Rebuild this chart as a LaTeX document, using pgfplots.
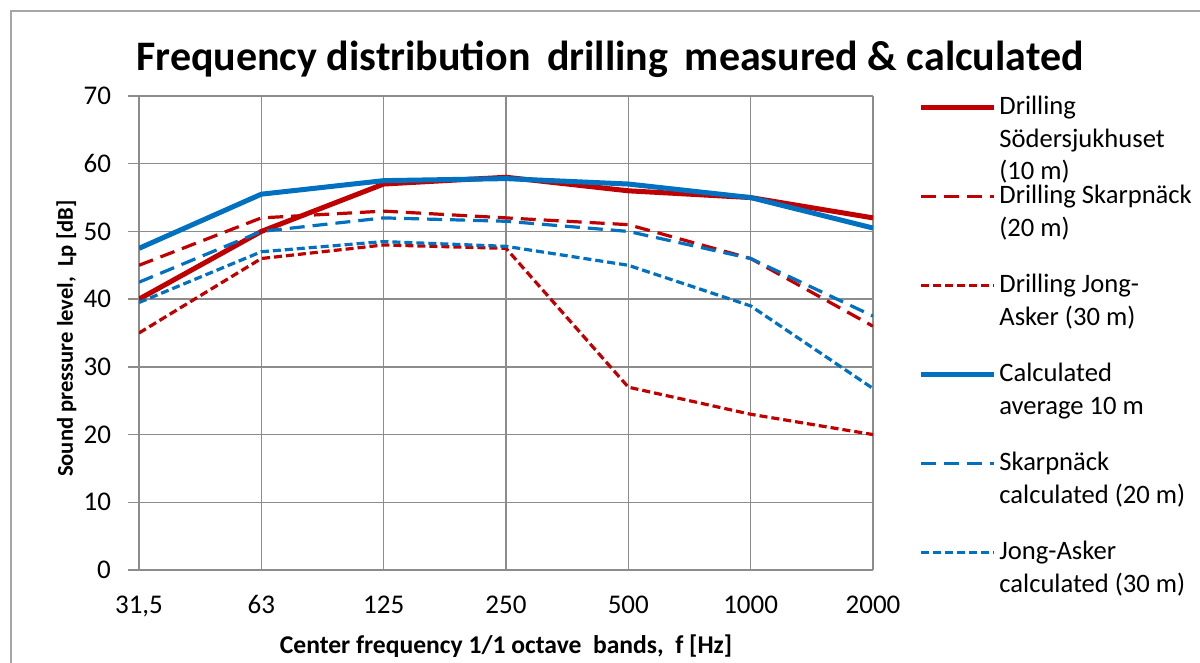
\documentclass[border=0pt]{standalone}
\usepackage{fontspec}
\setmainfont{Carlito}
\usepackage{pgfplots}
\pgfplotsset{compat=1.18}
\definecolor{cred}{HTML}{C00000}
\definecolor{cblue}{HTML}{0070C0}
\definecolor{cgrid}{HTML}{8C8C8C}
\definecolor{cframe}{HTML}{A6A6A6}
\newcommand{\lent}[1]{\vtop to 44.5pt{\hsize=140pt\parindent=0pt\fontsize{13.3}{16.25}\selectfont #1\par\vss}}
\begin{document}
\begin{tikzpicture}
\useasboundingbox (0pt,0pt) rectangle (600pt,331.5pt);
\fill[white] (0pt,0pt) rectangle (600pt,331.5pt);
\draw[cframe, line width=1.2pt] (5.5pt,0pt) -- (5.5pt,326pt) -- (600pt,326pt);
\node[font=\fontsize{21}{25}\selectfont\bfseries] at (305pt,302pt) {Frequency distribution\, drilling\, measured \& calculated};
\begin{axis}[
  at={(69.5pt,46.5pt)}, anchor=origin,
  scale only axis, width=367pt, height=237pt,
  xmin=0, xmax=6, ymin=0, ymax=70,
  xtick={0,1,2,3,4,5,6},
  xticklabels={{31,5},63,125,250,500,1000,2000},
  ytick={0,10,20,30,40,50,60,70},
  grid=major,
  grid style={cgrid, line width=0.65pt},
  axis lines*=left,
  axis line style={cgrid, line width=0.65pt},
  tick align=outside,
  major tick length=5.5pt,
  xtick style={draw=none},
  ytick style={cgrid, line width=0.65pt},
  /pgf/number format/assume math mode=true,
  tick label style={font=\fontsize{13.5}{16}\selectfont, text=black},
  yticklabel style={xshift=-5pt},
  xticklabel style={anchor=north, text height=9pt, text depth=2.5pt, yshift=-3.5pt},
  xlabel={Center frequency 1/1 octave\ \ bands,\ \ f [Hz]},
  ylabel={Sound pressure level,\ \ Lp [dB]},
  every axis x label/.style={at={(axis description cs:0.5,0)}, anchor=center, yshift=-38pt, font=\fontsize{12.8}{15}\selectfont\bfseries},
  every axis y label/.style={at={(axis description cs:-0.0988,0.488)}, anchor=center, rotate=90, font=\fontsize{11.3}{13}\selectfont\bfseries},
  no markers,
  every axis plot/.append style={line join=round},
  legend image code/.code={\draw[#1] (0pt,3.5pt) -- (36.5pt,3.5pt);},
  every axis legend/.style={at={(axis description cs:1.0613,1.0)}, anchor=north west,
     draw=none, fill=none, inner sep=0pt, row sep=0pt, column sep=1.5pt,
     cells={anchor=base west}, nodes={inner sep=0pt}},
]
\addplot[cred, line width=2.5pt] coordinates {(0,40) (1,50) (2,57) (3,58) (4,56) (5,55) (6,52)};
\addlegendentry{\lent{Drilling\newline Södersjukhuset\newline (10 m)}}
\addplot[cred, line width=1.6pt, dash pattern=on 7.5pt off 4pt] coordinates {(0,45) (1,52) (2,53) (3,52) (4,51) (5,46) (6,36)};
\addlegendentry{\lent{Drilling Skarpnäck\newline (20 m)}}
\addplot[cred, line width=1.6pt, dash pattern=on 4pt off 2pt] coordinates {(0,35) (1,46) (2,48) (3,47.5) (4,27) (5,23) (6,20)};
\addlegendentry{\lent{Drilling Jong-\newline Asker (30 m)}}
\addplot[cblue, line width=2.5pt] coordinates {(0,47.5) (1,55.5) (2,57.5) (3,57.8) (4,57) (5,55) (6,50.5)};
\addlegendentry{\lent{Calculated\newline average 10 m}}
\addplot[cblue, line width=1.6pt, dash pattern=on 7.5pt off 4pt] coordinates {(0,42.5) (1,50) (2,52) (3,51.5) (4,50) (5,46) (6,37.5)};
\addlegendentry{\lent{Skarpnäck\newline calculated (20 m)}}
\addplot[cblue, line width=1.6pt, dash pattern=on 4pt off 2pt] coordinates {(0,39.5) (1,47) (2,48.5) (3,47.8) (4,45) (5,39) (6,26.8)};
\addlegendentry{\lent{Jong-Asker\newline calculated (30 m)}}
\end{axis}
\end{tikzpicture}
\end{document}
